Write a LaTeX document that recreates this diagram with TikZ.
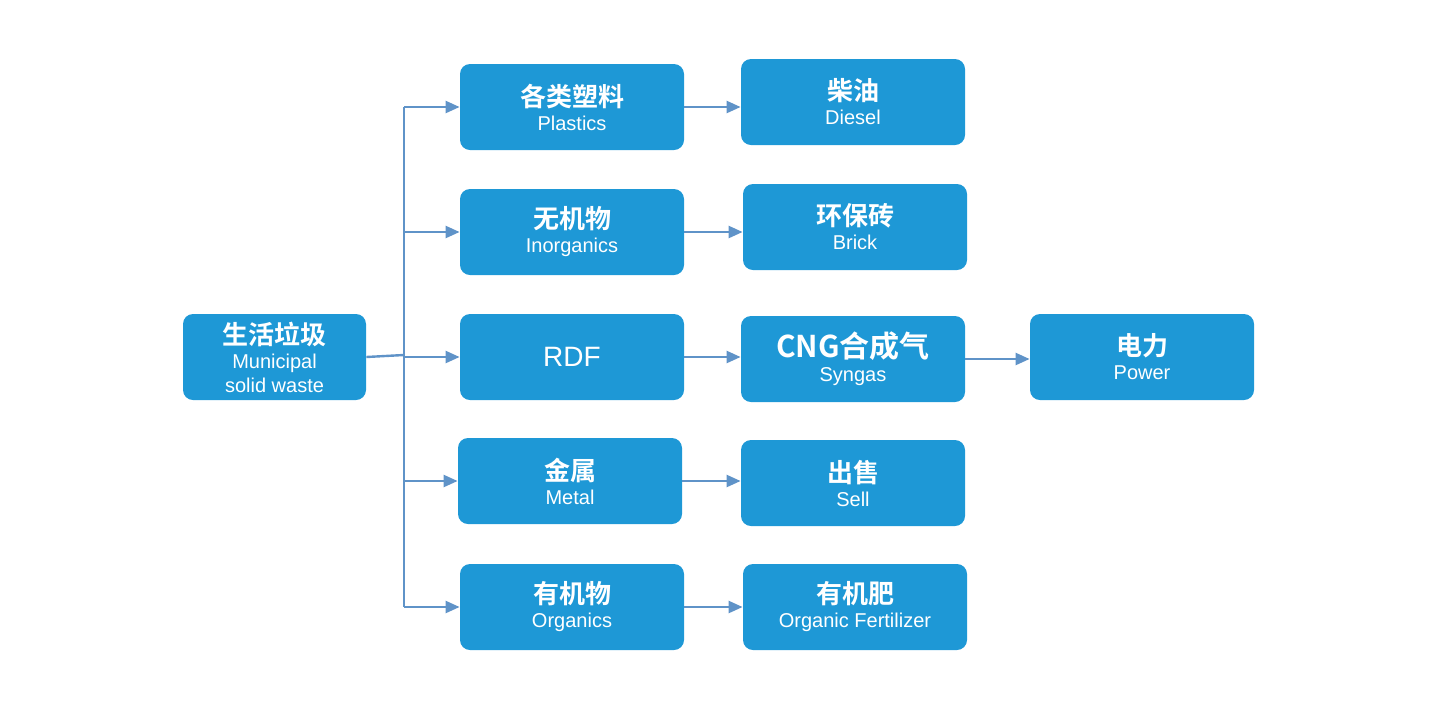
\documentclass[tikz,border=0pt]{standalone}
\usepackage{fontspec}
\setmainfont{Liberation Sans}
\newfontfamily\cjkfont{Noto Sans CJK SC Bold}
\usetikzlibrary{arrows.meta,positioning}
\definecolor{boxblue}{HTML}{1E98D6}
\definecolor{lineblue}{HTML}{5F93C8}
\newcommand{\boxtext}[2]{{\cjkfont\fontsize{13}{14}\selectfont #1}\\{\fontsize{10}{11}\selectfont #2}}
\begin{document}
\begin{tikzpicture}[%
        x=0.5pt, y=-0.5pt,
        box/.style={rectangle, rounded corners=5pt, fill=boxblue, text=white,
            minimum width=112pt, minimum height=43pt, align=center, inner sep=0pt},
        link/.style={draw=lineblue, line width=1.2pt, -{Triangle[length=7pt,width=6pt]}}
        ]
        \useasboundingbox (0,0) rectangle (1442,719);
        \node[box, minimum width=91.5pt] (msw) at (274.5,357) {{\cjkfont\fontsize{13}{14}\selectfont 生活垃圾}\\{\fontsize{10}{10}\selectfont Municipal}\\{\fontsize{10}{10}\selectfont solid waste}};

        \node[box] (plastic) at (572,107) {\boxtext{各类塑料}{Plastics}};
        \node[box] (inorg)   at (572,232) {\boxtext{无机物}{Inorganics}};
        \node[box] (rdf)     at (572,357) {\fontsize{14}{15}\selectfont RDF};
        \node[box] (metal)   at (570,481) {\boxtext{金属}{Metal}};
        \node[box] (org)     at (572,607) {\boxtext{有机物}{Organics}};

        \node[box] (diesel)  at (853,102) {\boxtext{柴油}{Diesel}};
        \node[box] (brick)   at (855,227) {\boxtext{环保砖}{Brick}};
        \node[box] (syngas)  at (853,359) {\boxtext{\fontsize{15}{16}\selectfont CNG合成气}{Syngas}};
        \node[box] (sell)    at (853,483) {\boxtext{出售}{Sell}};
        \node[box] (fert)    at (855,607) {\boxtext{有机肥}{Organic Fertilizer}};

        \node[box] (power)   at (1142,357) {\boxtext{电力}{Power}};

        % trunk
        \coordinate (top) at (404,107);
        \coordinate (bot) at (404,607);
        \coordinate (mid) at (404,355);
        \draw[lineblue, line width=1.2pt] (top) -- (bot);
        \draw[lineblue, line width=1.2pt] (msw.east) -- (mid);
        \foreach \n in {plastic,inorg,rdf,metal,org}
            \draw[link] (top |- \n) -- (\n.west);

        \draw[link] (plastic) -- (diesel.west |- plastic);
        \draw[link] (inorg) -- (brick.west |- inorg);
        \draw[link] (rdf) -- (syngas.west |- rdf);
        \draw[link] (metal) -- (sell.west |- metal);
        \draw[link] (org) -- (fert.west |- org);
        \draw[link] (syngas) -- (power.west |- syngas);
\end{tikzpicture}
\end{document}
